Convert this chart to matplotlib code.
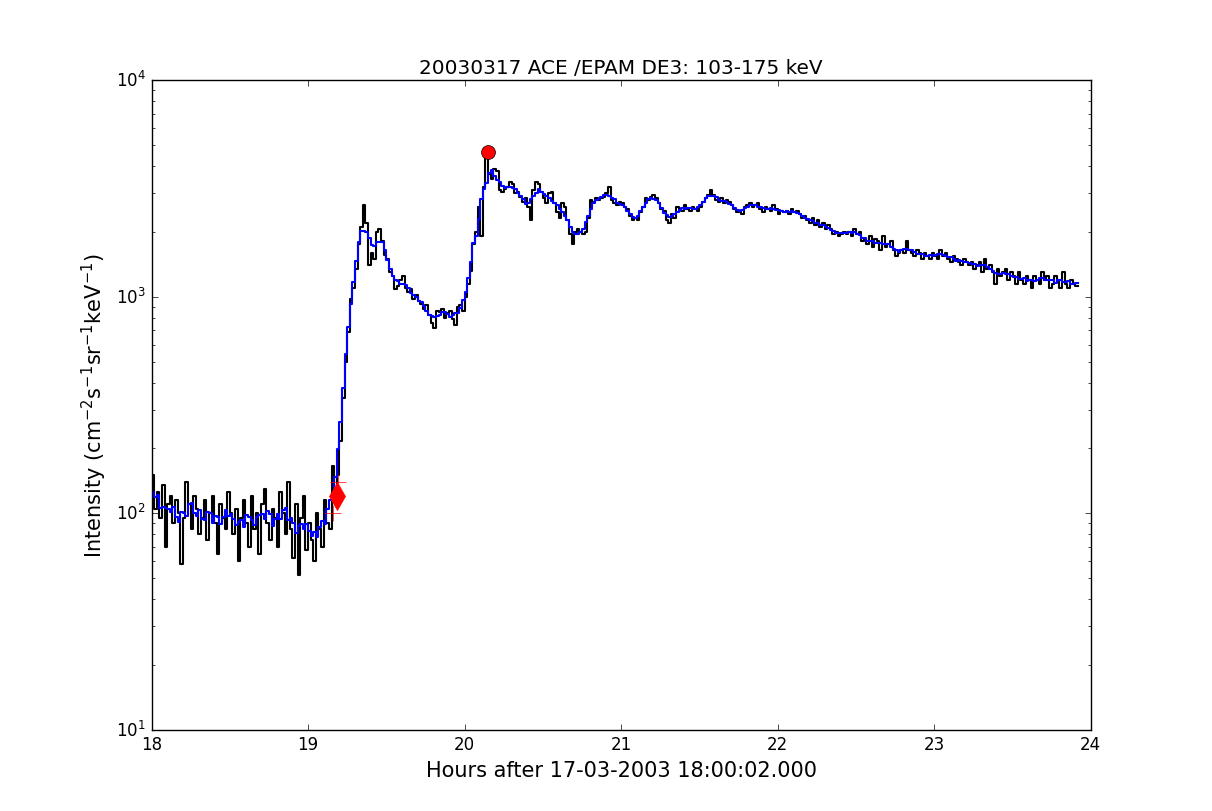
"""ACE/EPAM DE3 electron intensity, 2003-03-17 event."""

import matplotlib
matplotlib.use("Agg")
import matplotlib.pyplot as plt
import numpy as np
import pandas as pd

plt.style.use("classic")
plt.rcParams["mathtext.fontset"] = "dejavusans"

# one sample per minute, starting at 18:00
intensity = [
    120, 150, 105, 125, 95, 135, 70, 110, 120, 90,
    115, 100, 58, 95, 140, 110, 85, 120, 105, 80,
    95, 115, 75, 100, 120, 90, 65, 110, 95, 85,
    125, 100, 80, 105, 60, 95, 115, 90, 70, 120,
    85, 100, 65, 110, 130, 90, 75, 105, 95, 70,
    125, 100, 80, 140, 85, 62, 110, 52, 95, 120,
    68, 90, 75, 60, 100, 85, 70, 115, 90, 85,
    165, 120, 150, 215, 340, 500, 690, 980, 1100, 1350,
    1750, 2100, 2650, 2200, 1400, 1600, 1500, 2000, 2050, 1800,
    1560, 1500, 1300, 1250, 1080, 1120, 1200, 1250, 1100, 1050,
    1080, 980, 1020, 960, 930, 880, 920, 820, 760, 720,
    860, 850, 880, 800, 840, 860, 790, 740, 900, 920,
    860, 1000, 1150, 1310, 1750, 2000, 2600, 1900, 3200, 4400,
    3700, 3500, 3900, 3800, 3100, 3050, 3150, 3200, 3400, 3300,
    3000, 3050, 2900, 2750, 2850, 2600, 2250, 3100, 3400, 3300,
    3050, 2850, 2700, 3000, 3050, 2700, 2450, 2300, 2700, 2600,
    2250, 1950, 1750, 2000, 2050, 1980, 1950, 2000, 2300, 2800,
    2750, 2850, 2800, 2850, 2900, 3000, 3200, 2800, 2700, 2650,
    2750, 2700, 2600, 2550, 2350, 2250, 2300, 2250, 2450, 2600,
    2850, 2800, 2900, 2950, 2850, 2700, 2550, 2500, 2250, 2200,
    2400, 2300, 2600, 2550, 2500, 2650, 2550, 2500, 2600, 2550,
    2500, 2600, 2750, 2850, 2950, 3100, 2950, 2800, 2750, 2850,
    2700, 2800, 2750, 2650, 2550, 2450, 2500, 2400, 2600, 2650,
    2700, 2600, 2650, 2700, 2550, 2450, 2600, 2550, 2500, 2650,
    2550, 2400, 2500, 2450, 2500, 2400, 2550, 2450, 2500, 2400,
    2300, 2350, 2250, 2200, 2300, 2150, 2250, 2100, 2200, 2050,
    2150, 2050, 1950, 2000, 1900, 1950, 2000, 1950, 2000, 1900,
    2050, 1950, 2000, 1800, 1850, 1750, 1900, 1700, 1850, 1800,
    1650, 1900, 1700, 1750, 1800, 1650, 1550, 1600, 1650, 1600,
    1800, 1650, 1600, 1550, 1650, 1600, 1500, 1600, 1550, 1500,
    1600, 1550, 1500, 1650, 1550, 1600, 1500, 1450, 1550, 1500,
    1450, 1400, 1500, 1450, 1400, 1450, 1350, 1400, 1450, 1300,
    1500, 1350, 1400, 1300, 1150, 1350, 1250, 1300, 1350, 1200,
    1300, 1250, 1150, 1300, 1200, 1150, 1250, 1200, 1100, 1250,
    1200, 1150, 1300, 1200, 1250, 1100, 1150, 1250, 1200, 1100,
    1300, 1150, 1100, 1200, 1150, 1120,
]

onset_time, onset_value = 19.182, 120
onset_err_t = [19.190, 19.159]
onset_err_v = [140, 100]
peak_time, peak_value = 20.147, 4640

hours = 18 + np.arange(len(intensity)) / 60.0
smooth = pd.Series(intensity).rolling(5, center=True, min_periods=1).mean()

fig = plt.figure(figsize=(12.12, 8.12), dpi=100)
ax = fig.add_subplot(111)
ax.plot(hours, intensity, color="k", linewidth=1.5, drawstyle="steps")
ax.plot(hours, smooth, color="b", linewidth=1.5, drawstyle="steps")
ax.plot(onset_err_t, onset_err_v, "r+", markersize=11)
ax.plot(onset_time, onset_value, "rd", markersize=14, markeredgecolor="r")
ax.plot(peak_time, peak_value, "ro", markersize=10)

ax.set_yscale("log")
ax.set_xlim(18, 24)
ax.set_ylim(10, 1e4)
ax.set_title("20030317 ACE /EPAM DE3: 103-175 keV", fontsize=14.4)
ax.set_xlabel("Hours after 17-03-2003 18:00:02.000", fontsize=15)
ax.set_ylabel(r"Intensity (cm$^{-2}$s$^{-1}$sr$^{-1}$keV$^{-1}$)", fontsize=15)

fig.savefig("out.png", dpi=100, facecolor="white")
plt.close(fig)
